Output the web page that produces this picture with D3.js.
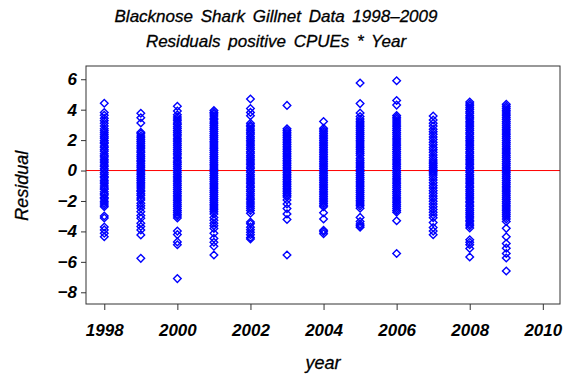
<!DOCTYPE html>
<html>
<head>
<meta charset="utf-8">
<script src="https://cdn.jsdelivr.net/npm/d3@7"></script>
<style>
  html, body { margin: 0; padding: 0; background: #fff; }
  text { font-family: "Liberation Sans", Arial, sans-serif; }
</style>
</head>
<body>
<div id="chart"></div>
<script>
// residuals, one array per year
const years = [1998, 1999, 2000, 2001, 2002, 2003, 2004, 2005, 2006, 2007, 2008, 2009];

const r1998 = [4.42, 3.81, 3.63, 3.44, 3.28, 3.11, 2.93, 2.74, 2.61, 2.49, 2.36, 2.22, 2.13, 1.98, 1.86, 1.77, 1.61, 1.52, 1.37, 1.26, 1.1, 0.97, 0.89, 0.74, 0.63, 0.51, 0.36, 0.27, 0.11, 0.02, -0.13, -0.24, -0.39, -0.48, -0.63, -0.76, -0.86, -1.01, -1.14, -1.23, -1.39, -1.52, -1.6, -1.77, -1.86, -2.01, -2.14, -2.26, -2.38, -2.99, -3.12, -3.71, -3.9, -4.12, -4.35];
const r1999 = [3.76, 3.47, 3.12, 2.52, 2.41, 2.27, 2.16, 2.03, 1.91, 1.79, 1.66, 1.54, 1.43, 1.29, 1.18, 1.04, 0.93, 0.81, 0.68, 0.57, 0.44, 0.32, 0.21, 0.08, -0.03, -0.16, -0.27, -0.41, -0.52, -0.64, -0.77, -0.88, -1.02, -1.15, -1.29, -1.38, -1.52, -1.64, -1.81, -1.93, -2.15, -2.31, -2.48, -2.7, -2.96, -3.14, -3.46, -3.68, -3.9, -4.23, -5.77];
const r2000 = [4.22, 3.91, 3.66, 3.52, 3.39, 3.27, 3.13, 3.02, 2.88, 2.76, 2.63, 2.51, 2.38, 2.27, 2.12, 2.01, 1.89, 1.76, 1.64, 1.51, 1.39, 1.26, 1.13, 1.02, 0.88, 0.77, 0.63, 0.52, 0.39, 0.26, 0.14, 0.01, -0.11, -0.24, -0.37, -0.49, -0.62, -0.74, -0.87, -0.99, -1.12, -1.24, -1.37, -1.49, -1.62, -1.74, -1.87, -1.99, -2.12, -2.24, -2.37, -2.49, -2.62, -2.74, -2.88, -2.99, -3.12, -3.98, -4.21, -4.69, -4.88, -7.1];
const r2001 = [3.95, 3.82, 3.71, 3.58, 3.44, 3.33, 3.19, 3.07, 2.94, 2.81, 2.69, 2.56, 2.43, 2.31, 2.18, 2.06, 1.93, 1.81, 1.68, 1.55, 1.43, 1.31, 1.18, 1.05, 0.93, 0.8, 0.68, 0.55, 0.42, 0.3, 0.17, 0.05, -0.08, -0.2, -0.33, -0.45, -0.58, -0.7, -0.83, -0.95, -1.08, -1.2, -1.33, -1.45, -1.58, -1.7, -1.83, -1.95, -2.08, -2.21, -2.33, -2.46, -2.58, -2.71, -2.86, -3.09, -3.27, -3.46, -3.63, -3.81, -4.12, -4.46, -4.71, -4.98, -5.55];
const r2002 = [4.7, 4.07, 3.82, 3.6, 3.11, 2.98, 2.87, 2.73, 2.62, 2.49, 2.38, 2.24, 2.13, 1.99, 1.88, 1.74, 1.63, 1.49, 1.38, 1.24, 1.13, 0.99, 0.88, 0.74, 0.63, 0.49, 0.38, 0.24, 0.13, -0.01, -0.12, -0.26, -0.37, -0.51, -0.62, -0.76, -0.87, -1.01, -1.12, -1.26, -1.37, -1.53, -1.66, -1.8, -1.92, -2.07, -2.2, -2.34, -2.48, -2.62, -2.8, -3.38, -3.5, -3.72, -3.89, -4.05, -4.22, -4.4, -4.5];
const r2003 = [4.28, 2.74, 2.63, 2.51, 2.4, 2.28, 2.17, 2.05, 1.94, 1.82, 1.71, 1.59, 1.48, 1.36, 1.25, 1.13, 1.02, 0.9, 0.79, 0.67, 0.56, 0.44, 0.33, 0.21, 0.1, -0.02, -0.13, -0.25, -0.36, -0.48, -0.59, -0.71, -0.82, -0.94, -1.05, -1.17, -1.28, -1.4, -1.51, -1.63, -1.74, -1.93, -2.2, -2.5, -2.85, -3.22, -5.55];
const r2004 = [3.22, 2.78, 2.66, 2.55, 2.43, 2.32, 2.2, 2.09, 1.97, 1.86, 1.74, 1.63, 1.51, 1.4, 1.28, 1.17, 1.05, 0.94, 0.82, 0.71, 0.59, 0.48, 0.36, 0.25, 0.13, 0.02, -0.1, -0.21, -0.33, -0.44, -0.56, -0.67, -0.79, -0.9, -1.02, -1.13, -1.25, -1.36, -1.48, -1.59, -1.71, -1.82, -1.94, -2.05, -2.17, -2.28, -2.38, -2.77, -3.18, -3.92, -4.02, -4.15];
const r2005 = [5.75, 4.4, 3.78, 3.55, 3.38, 3.24, 3.12, 2.99, 2.87, 2.74, 2.62, 2.49, 2.37, 2.24, 2.12, 1.99, 1.87, 1.74, 1.62, 1.49, 1.37, 1.24, 1.12, 0.99, 0.8, 0.68, 0.55, 0.43, 0.3, 0.18, 0.05, -0.07, -0.2, -0.32, -0.45, -0.57, -0.7, -0.82, -0.95, -1.07, -1.2, -1.32, -1.45, -1.57, -1.7, -1.82, -1.95, -2.07, -2.2, -2.32, -2.47, -3.08, -3.35, -3.52, -3.63, -3.72];
const r2006 = [5.9, 4.6, 4.3, 3.62, 3.5, 3.38, 3.25, 3.13, 3.0, 2.88, 2.75, 2.63, 2.5, 2.38, 2.25, 2.13, 2.0, 1.88, 1.75, 1.63, 1.5, 1.38, 1.25, 1.13, 1.0, 0.88, 0.75, 0.63, 0.5, 0.38, 0.25, 0.13, 0.0, -0.12, -0.25, -0.37, -0.5, -0.62, -0.75, -0.87, -1.0, -1.12, -1.25, -1.37, -1.5, -1.62, -1.75, -1.87, -2.0, -2.12, -2.25, -2.37, -2.5, -2.62, -2.74, -3.3, -5.45];
const r2007 = [3.58, 3.32, 3.1, 2.92, 2.71, 2.55, 2.38, 2.2, 2.04, 1.86, 1.7, 1.52, 1.36, 1.2, 1.02, 0.86, 0.7, 0.56, 0.44, 0.32, 0.2, 0.08, -0.04, -0.16, -0.3, -0.46, -0.62, -0.8, -0.98, -1.14, -1.32, -1.5, -1.68, -1.84, -2.02, -2.2, -2.38, -2.56, -2.74, -2.92, -3.1, -3.42, -3.75, -3.98, -4.22];
const r2008 = [4.5, 4.37, 4.26, 4.12, 4.01, 3.87, 3.76, 3.62, 3.51, 3.38, 3.24, 3.13, 2.99, 2.88, 2.74, 2.63, 2.49, 2.38, 2.24, 2.13, 1.99, 1.88, 1.74, 1.63, 1.49, 1.38, 1.24, 1.13, 0.99, 0.88, 0.74, 0.63, 0.49, 0.38, 0.24, 0.13, -0.01, -0.12, -0.26, -0.37, -0.51, -0.62, -0.76, -0.87, -1.01, -1.12, -1.26, -1.37, -1.51, -1.62, -1.76, -1.87, -2.01, -2.12, -2.26, -2.37, -2.51, -2.62, -2.76, -2.87, -3.01, -3.12, -3.26, -3.37, -3.51, -3.62, -3.78, -4.55, -4.72, -4.88, -5.12, -5.68];
const r2009 = [4.35, 4.22, 4.1, 3.97, 3.85, 3.72, 3.6, 3.47, 3.35, 3.22, 3.1, 2.97, 2.85, 2.72, 2.6, 2.47, 2.35, 2.22, 2.1, 1.97, 1.85, 1.72, 1.6, 1.47, 1.35, 1.22, 1.1, 0.97, 0.85, 0.72, 0.6, 0.47, 0.35, 0.22, 0.1, -0.03, -0.15, -0.28, -0.4, -0.53, -0.65, -0.78, -0.9, -1.03, -1.15, -1.28, -1.4, -1.53, -1.65, -1.78, -1.9, -2.03, -2.15, -2.28, -2.4, -2.53, -2.65, -2.78, -2.9, -3.03, -3.18, -3.35, -3.8, -4.35, -4.8, -5.1, -5.45, -5.75, -6.6];

const residuals = [r1998, r1999, r2000, r2001, r2002, r2003, r2004, r2005, r2006, r2007, r2008, r2009];

const xTicks = [1998, 2000, 2002, 2004, 2006, 2008, 2010];
const yTicks = [-8, -6, -4, -2, 0, 2, 4, 6];

const titleLines = ['Blacknose Shark Gillnet Data 1998\u20132009', 'Residuals positive CPUEs * Year'];

const width = 563, height = 377;
const margin = { top: 66, right: 3, bottom: 73, left: 86 };

const points = [];
years.forEach((yr, i) => residuals[i].forEach(v => points.push({ year: yr, value: v })));

const svg = d3.select('#chart')
  .append('svg')
  .attr('width', width)
  .attr('height', height);

const x = d3.scaleLinear()
  .domain([1997.5, 2010.47])
  .range([margin.left, width - margin.right]);

const y = d3.scaleLinear()
  .domain([-8.77, 6.87])
  .range([height - margin.bottom, margin.top]);

// titles
svg.append('g')
  .selectAll('text')
  .data(titleLines)
  .join('text')
  .attr('x', 276)
  .attr('y', (d, i) => 22 + i * 25)
  .attr('text-anchor', 'middle')
  .attr('font-size', 17)
  .attr('font-style', 'italic')
  .attr('word-spacing', 3)
  .attr('stroke', '#000')
  .attr('stroke-width', 0.3)
  .text(d => d);

// reference line at zero
svg.append('line')
  .attr('x1', margin.left)
  .attr('x2', width - margin.right)
  .attr('y1', y(0))
  .attr('y2', y(0))
  .attr('stroke', '#ff0000')
  .attr('stroke-width', 1);

// diamonds
const diamond = 'M0,-3.8L3.8,0L0,3.8L-3.8,0Z';
svg.append('g')
  .selectAll('path')
  .data(points)
  .join('path')
  .attr('d', diamond)
  .attr('transform', d => `translate(${x(d.year)},${y(d.value)})`)
  .attr('fill', 'none')
  .attr('stroke', '#0000ff')
  .attr('stroke-width', 1.4);

// frame
svg.append('rect')
  .attr('x', margin.left)
  .attr('y', margin.top)
  .attr('width', width - margin.left - margin.right)
  .attr('height', height - margin.top - margin.bottom)
  .attr('fill', 'none')
  .attr('stroke', '#333')
  .attr('stroke-width', 1);

const fmt = d => d < 0 ? '\u2212' + Math.abs(d) : String(d);

// axes
const xAxis = svg.append('g')
  .attr('transform', `translate(0,${height - margin.bottom})`)
  .call(d3.axisBottom(x).tickValues(xTicks).tickFormat(d3.format('d')).tickSize(6).tickPadding(14));

const yAxis = svg.append('g')
  .attr('transform', `translate(${margin.left},0)`)
  .call(d3.axisLeft(y).tickValues(yTicks).tickFormat(fmt).tickSize(5).tickPadding(4));

[xAxis, yAxis].forEach(ax => {
  ax.select('.domain').remove();
  ax.selectAll('line').attr('stroke', '#333');
  ax.selectAll('text')
    .attr('font-family', '"Liberation Sans", Arial, sans-serif')
    .attr('font-size', 17)
    .attr('font-style', 'italic')
    .attr('font-weight', 'bold')
    .attr('fill', '#000');
});

// axis labels
svg.append('text')
  .attr('x', (margin.left + width - margin.right) / 2)
  .attr('y', 369)
  .attr('text-anchor', 'middle')
  .attr('font-size', 18)
  .attr('font-style', 'italic')
  .attr('stroke', '#000')
  .attr('stroke-width', 0.3)
  .text('year');

svg.append('text')
  .attr('transform', `translate(28,${y(-1)}) rotate(-90)`)
  .attr('text-anchor', 'middle')
  .attr('font-size', 18)
  .attr('font-style', 'italic')
  .attr('stroke', '#000')
  .attr('stroke-width', 0.3)
  .text('Residual');
</script>
</body>
</html>
